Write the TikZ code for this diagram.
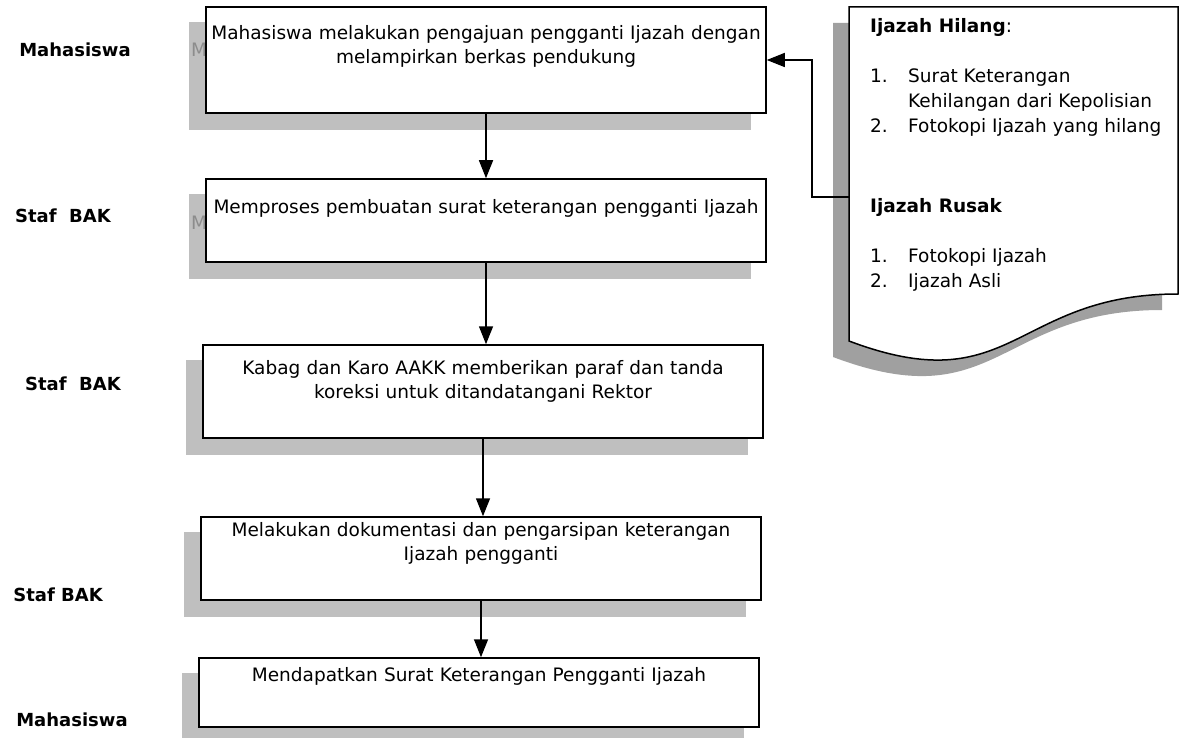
\documentclass[tikz,border=0pt]{standalone}
\usepackage{fontspec}
\setmainfont{DejaVu Sans}
\usepackage{tikz}
\usetikzlibrary{arrows.meta, calc}
\definecolor{boxshade}{HTML}{BFBFBF}
\definecolor{docshade}{HTML}{A0A0A0}
\definecolor{ghostgray}{HTML}{8C8C8C}
\pgfdeclarelayer{background}
\pgfsetlayers{background,main}

\begin{document}
\begin{tikzpicture}[x=1pt, y=-1pt,
  stepbox/.style={rectangle, draw=black, line width=1.5pt, fill=white, minimum width=560pt, inner sep=0pt},
  steptext/.style={text width=558pt, align=center, inner sep=0pt, font=\fontsize{18.5}{24}\selectfont},
  who/.style={inner sep=0pt, font=\fontsize{18}{22}\selectfont\bfseries},
  doctext/.style={anchor=north west, align=left, inner sep=0pt, font=\fontsize{18.5}{25}\selectfont},
  ghost/.style={inner sep=0pt, text=ghostgray, font=\fontsize{18.5}{24}\selectfont},
  flow/.style={line width=1.5pt, -{Triangle[length=18pt, width=14pt]}}]
  \useasboundingbox (0,0) rectangle (1184,738);

  % siapa
  \node (w1) [who] at (75,50) {Mahasiswa};
  \node (w2) [who] at (63,216) {Staf~~BAK};
  \node (w3) [who] at (73,384) {Staf~~BAK};
  \node (w4) [who] at (58,595) {Staf BAK};
  \node (w5) [who] at (72,720) {Mahasiswa};

  % langkah
  \node (p1) [stepbox, minimum height=106pt] at (486,60) {};
  \node (p2) [stepbox, minimum height=83pt] at (486,220.5) {};
  \node (p3) [stepbox, minimum height=93pt] at (483,391.5) {};
  \node (p4) [stepbox, minimum height=83pt] at (481,558.5) {};
  \node (p5) [stepbox, minimum height=69pt] at (479,692.5) {};

  \node (t1) [steptext] at (486,46) {Mahasiswa melakukan pengajuan pengganti Ijazah dengan\\ melampirkan berkas pendukung};
  \node (t2) [steptext] at (486,208) {Memproses pembuatan surat keterangan pengganti Ijazah};
  \node (t3) [steptext] at (483,381) {Kabag dan Karo AAKK memberikan paraf dan tanda\\ koreksi untuk ditandatangani Rektor};
  \node (t4) [steptext] at (481,543) {Melakukan dokumentasi dan pengarsipan keterangan\\ Ijazah pengganti};
  \node (t5) [steptext] at (479,676) {Mendapatkan Surat Keterangan Pengganti Ijazah};

  % berkas
  \draw [line width=1.5pt, fill=white] (849,7) -- (1178,7) -- (1178,294)
    .. controls (1013.5,294) and (1013.5,403) .. (849,341) -- cycle;
  \node (hilang) [doctext] at (870,18) {\textbf{Ijazah Hilang}:\\[25pt]
    \makebox[38pt][l]{1.}Surat Keterangan\\
    \hspace*{38pt}Kehilangan dari Kepolisian\\
    \makebox[38pt][l]{2.}Fotokopi Ijazah yang hilang};
  \node (rusak) [doctext] at (870,198) {\textbf{Ijazah Rusak}\\[25pt]
    \makebox[38pt][l]{1.}Fotokopi Ijazah\\
    \makebox[38pt][l]{2.}Ijazah Asli};
  \coordinate (dl) at (849,197);
  \coordinate (turn) at (812,197);

  \draw [flow] (p1.south) -- (p1.south |- p2.north);
  \draw [flow] (p2.south) -- (p2.south |- p3.north);
  \draw [flow] (p3.south) -- (p3.south |- p4.north);
  \draw [flow] (p4.south) -- (p4.south |- p5.north);
  \draw [flow] (dl) -- (turn) |- (p1.east);

  % bayangan
  \begin{pgfonlayer}{background}
    \foreach \p in {p1,p2,p3,p4,p5}
      \fill [boxshade] ($(\p.south west)+(-16,16)$) rectangle ($(\p.north east)+(-16,16)$);
    \fill [docshade, shift={(-16,16)}] (849,7) -- (1178,7) -- (1178,294)
      .. controls (1013.5,294) and (1013.5,403) .. (849,341) -- cycle;
    \node (g1) [ghost] at (199,50) {M};
    \node (g2) [ghost] at (199,223) {M};
  \end{pgfonlayer}
\end{tikzpicture}
\end{document}
